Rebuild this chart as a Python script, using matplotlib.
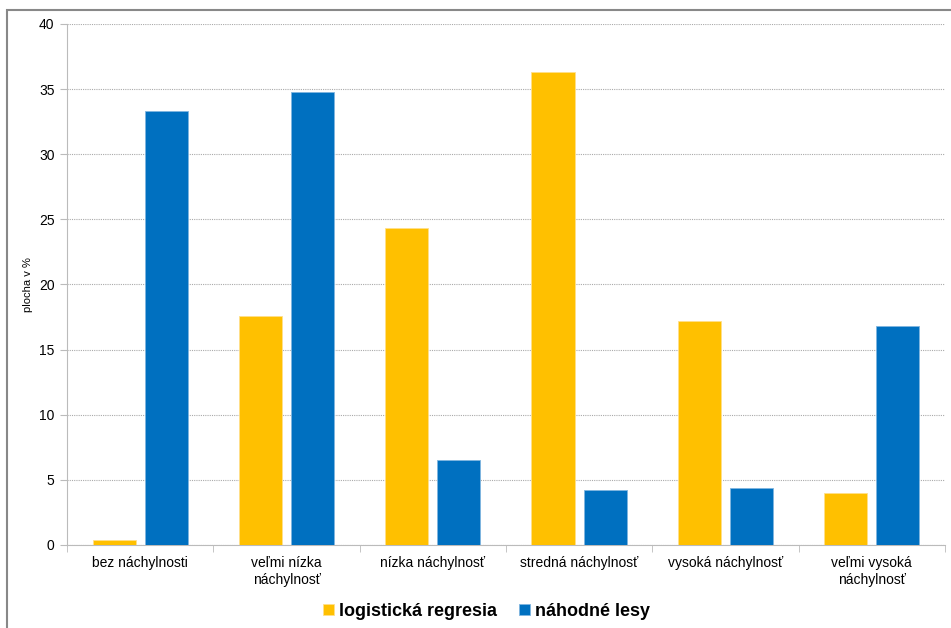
import matplotlib.pyplot as plt
import numpy as np
from matplotlib.patches import Rectangle

plt.rcParams["font.family"] = ["Liberation Sans", "DejaVu Sans"]

categories = [
    "bez náchylnosti",
    "veľmi nízka\nnáchylnosť",
    "nízka náchylnosť",
    "stredná náchylnosť",
    "vysoká náchylnosť",
    "veľmi vysoká\nnáchylnosť",
]
logisticka = [0.4, 17.6, 24.3, 36.3, 17.2, 4.0]
nahodne = [33.3, 34.8, 6.5, 4.2, 4.4, 16.8]
series_names = ["logistická regresia", "náhodné lesy"]
yticks = [0, 5, 10, 15, 20, 25, 30, 35, 40]

YELLOW = "#FFC000"
BLUE = "#0070C0"

fig = plt.figure(figsize=(9.51, 6.28), dpi=100)
ax = fig.add_axes([0.0705, 0.1322, 0.923, 0.8296])

x = np.arange(len(categories))
w = 0.295
off = 0.178
ax.bar(x - off, logisticka, w, color=YELLOW, edgecolor="#FFE08A", linewidth=0.6,
       label=series_names[0], zorder=3)
ax.bar(x + off, nahodne, w, color=BLUE, edgecolor="#7FB5E0", linewidth=0.6,
       label=series_names[1], zorder=3)

ax.set_xlim(-0.5, len(categories) - 0.5)
ax.set_ylim(0, 40)
ax.set_yticks(yticks)
ax.tick_params(axis="y", labelsize=10, length=5, color="#BBBBBB", pad=4)
ax.yaxis.grid(True, linestyle=(0, (1, 1)), color="#AAAAAA", linewidth=0.8, zorder=0)

# category labels at centres, tick marks on the boundaries
ax.set_xticks(x)
ax.set_xticklabels(categories, fontsize=10, linespacing=1.25)
ax.tick_params(axis="x", length=0, pad=8)
ax.set_xticks(np.arange(len(categories) + 1) - 0.5, minor=True)
ax.tick_params(axis="x", which="minor", length=5, color="#BBBBBB")

for side in ("top", "right"):
    ax.spines[side].set_visible(False)
ax.spines["left"].set_color("#BBBBBB")
ax.spines["bottom"].set_color("#BBBBBB")

ax.set_ylabel("plocha v %", fontsize=8, labelpad=4)

ax.legend(loc="upper center", bbox_to_anchor=(0.478, -0.08), ncol=2, frameon=False,
          prop={"weight": "bold", "size": 13}, handlelength=0.6, handleheight=0.6,
          handletextpad=0.3, columnspacing=1.2)

# chart frame
fig.patches.append(Rectangle((7 / 951, -0.1), 1.2, 1 - 10 / 628 + 0.1,
                             transform=fig.transFigure, fill=False,
                             edgecolor="#888888", linewidth=1.5))

fig.savefig("out.png", dpi=100)
